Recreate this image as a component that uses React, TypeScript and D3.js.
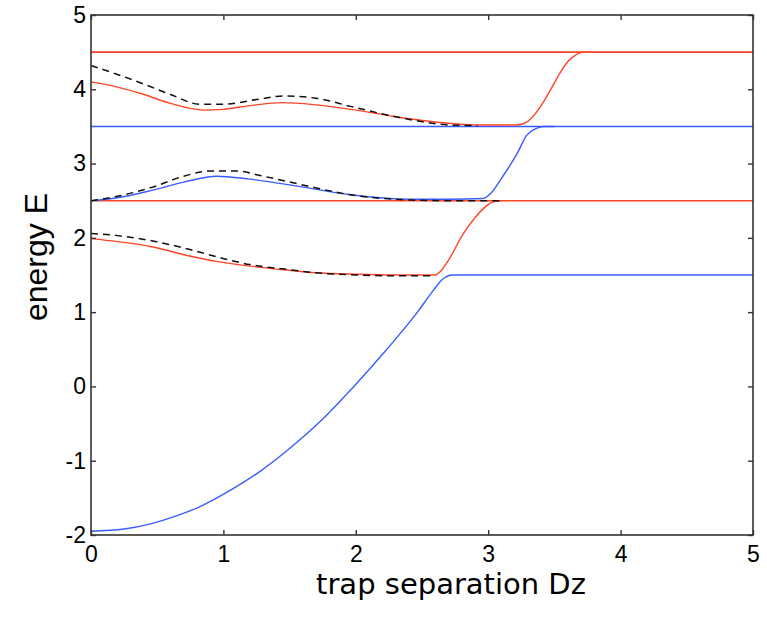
import { useEffect, useRef } from "react"
import * as d3 from "d3"

// flat levels (full width)
const levelRed = [4.5, 2.5]
const levelBlue = [3.5]

// upper red state
const redUpX = [0, 0.2, 0.4, 0.6, 0.85, 1.0, 1.2, 1.45, 1.7, 2.0, 2.3, 2.6, 2.9, 3.22, 3.3, 3.4, 3.47, 3.55, 3.6, 3.66, 3.72, 3.77]
const redUpY = [4.1, 4.03, 3.93, 3.81, 3.72, 3.73, 3.78, 3.82, 3.79, 3.72, 3.63, 3.56, 3.52, 3.52, 3.57, 3.78, 3.99, 4.24, 4.37, 4.46, 4.5, 4.5]
const dashUpX = [0, 0.2, 0.4, 0.6, 0.82, 1.0, 1.28, 1.45, 1.7, 1.96, 2.33, 2.7, 2.92]
const dashUpY = [4.32, 4.2, 4.07, 3.93, 3.8, 3.8, 3.87, 3.91, 3.88, 3.77, 3.62, 3.52, 3.51]

// middle blue state
const blueMidX = [0, 0.2, 0.46, 0.7, 0.95, 1.2, 1.58, 1.96, 2.41, 2.7, 2.96, 3.02, 3.1, 3.22, 3.29, 3.36, 3.42, 3.5]
const blueMidY = [2.5, 2.54, 2.64, 2.75, 2.83, 2.79, 2.69, 2.58, 2.52, 2.52, 2.53, 2.6, 2.8, 3.14, 3.38, 3.47, 3.5, 3.5]
const dashMidX = [0, 0.2, 0.46, 0.7, 0.9, 1.1, 1.3, 1.58, 1.96, 2.41, 2.7, 3.1]
const dashMidY = [2.5, 2.56, 2.68, 2.83, 2.9, 2.9, 2.83, 2.72, 2.58, 2.51, 2.5, 2.5]

// lower red state
const redLowX = [0, 0.2, 0.46, 0.71, 0.96, 1.2, 1.46, 1.7, 2.0, 2.3, 2.6, 2.64, 2.7, 2.81, 2.9, 2.98, 3.03, 3.1]
const redLowY = [1.99, 1.95, 1.88, 1.77, 1.68, 1.62, 1.57, 1.53, 1.51, 1.5, 1.5, 1.55, 1.7, 2.05, 2.27, 2.42, 2.48, 2.5]
const dashLowX = [0, 0.2, 0.46, 0.71, 0.96, 1.2, 1.46, 1.7, 2.0, 2.3, 2.6]
const dashLowY = [2.06, 2.03, 1.96, 1.86, 1.74, 1.64, 1.58, 1.53, 1.5, 1.49, 1.49]

// ground blue state
const blueLowX = [0, 0.25, 0.45, 0.65, 0.82, 1.07, 1.28, 1.47, 1.75, 1.97, 2.22, 2.47, 2.58, 2.66, 2.73, 5]
const blueLowY = [-1.95, -1.92, -1.85, -1.74, -1.62, -1.38, -1.14, -0.88, -0.44, -0.03, 0.47, 1.01, 1.28, 1.45, 1.5, 1.5]

const xTicks = [0, 1, 2, 3, 4, 5]
const yTicks = [-2, -1, 0, 1, 2, 3, 4, 5]

const RED = "#ff4526"
const BLUE = "#3a5cff"

export default function App() {
    const chart = useRef<SVGSVGElement>(null)
    const width = 767, height = 619

    useEffect(() => {
        const svg = d3.select(chart.current)
        svg.selectAll("*").remove()

        const x = d3.scaleLinear().domain([0, 5]).range([91, 753])
        const y = d3.scaleLinear().domain([-2, 5]).range([535, 15])

        const line = d3.line<[number, number]>()
            .x(d => x(d[0]))
            .y(d => y(d[1]))
            .curve(d3.curveMonotoneX)

        const zip = (xs: number[], ys: number[]) => xs.map((v, i) => [v, ys[i]] as [number, number])

        const plot = svg.append("g")

        levelRed.forEach(v => {
            plot.append("path").datum(zip([0, 5], [v, v]))
                .attr("d", line).attr("fill", "none").attr("stroke", RED).attr("stroke-width", 1.6)
        })
        levelBlue.forEach(v => {
            plot.append("path").datum(zip([0, 5], [v, v]))
                .attr("d", line).attr("fill", "none").attr("stroke", BLUE).attr("stroke-width", 1.6)
        })

        const curves = [
            { xs: redUpX, ys: redUpY, c: RED },
            { xs: blueMidX, ys: blueMidY, c: BLUE },
            { xs: redLowX, ys: redLowY, c: RED },
            { xs: blueLowX, ys: blueLowY, c: BLUE },
        ]
        curves.forEach(k => {
            plot.append("path").datum(zip(k.xs, k.ys))
                .attr("d", line).attr("fill", "none").attr("stroke", k.c).attr("stroke-width", 1.4)
        })

        const dashed = [[dashUpX, dashUpY], [dashMidX, dashMidY], [dashLowX, dashLowY]]
        dashed.forEach(([xs, ys]) => {
            plot.append("path").datum(zip(xs, ys))
                .attr("d", line).attr("fill", "none").attr("stroke", "#111")
                .attr("stroke-width", 1.5).attr("stroke-dasharray", "7,5")
        })

        // axes, ticks pointing inward on all four sides
        const axisColor = "#333"
        const styleAxis = (g: any) => {
            g.select(".domain").remove()
            g.selectAll("line").attr("stroke", axisColor).attr("stroke-width", 1.4)
            g.attr("font-family", "'Liberation Sans', Arial, sans-serif").attr("font-size", 23)
            g.selectAll("text").attr("fill", "#000")
        }

        svg.append("g").attr("transform", "translate(0,535)")
            .call(d3.axisBottom(x).tickValues(xTicks).tickSize(-5).tickPadding(11).tickFormat(d3.format("d")))
            .call(styleAxis)
        svg.append("g").attr("transform", "translate(0,15)")
            .call(d3.axisTop(x).tickValues(xTicks).tickSize(-5).tickFormat(() => ""))
            .call(styleAxis)
        svg.append("g").attr("transform", "translate(91,0)")
            .call(d3.axisLeft(y).tickValues(yTicks).tickSize(-5).tickPadding(5).tickFormat(d => String(d).replace("−", "-")))
            .call(styleAxis)
        svg.append("g").attr("transform", "translate(753,0)")
            .call(d3.axisRight(y).tickValues(yTicks).tickSize(-5).tickFormat(() => ""))
            .call(styleAxis)

        svg.append("rect")
            .attr("x", 91).attr("y", 15).attr("width", 753 - 91).attr("height", 535 - 15)
            .attr("fill", "none").attr("stroke", axisColor).attr("stroke-width", 1.6)

        svg.append("text")
            .attr("x", 451).attr("y", 594)
            .attr("text-anchor", "middle")
            .attr("font-family", "'DejaVu Sans', sans-serif")
            .attr("font-size", 29)
            .text("trap separation Dz")

        svg.append("text")
            .attr("transform", "translate(47,257) rotate(-90)")
            .attr("text-anchor", "middle")
            .attr("font-family", "'Liberation Sans', Arial, sans-serif")
            .attr("font-size", 32)
            .text("energy E")
    }, [])

    return (
        <div id="chartArea" style={{ position: "absolute", left: 0, top: 0 }}>
            <svg ref={chart} width={width} height={height} style={{ display: "block", background: "#fff" }}></svg>
        </div>
    )
}
